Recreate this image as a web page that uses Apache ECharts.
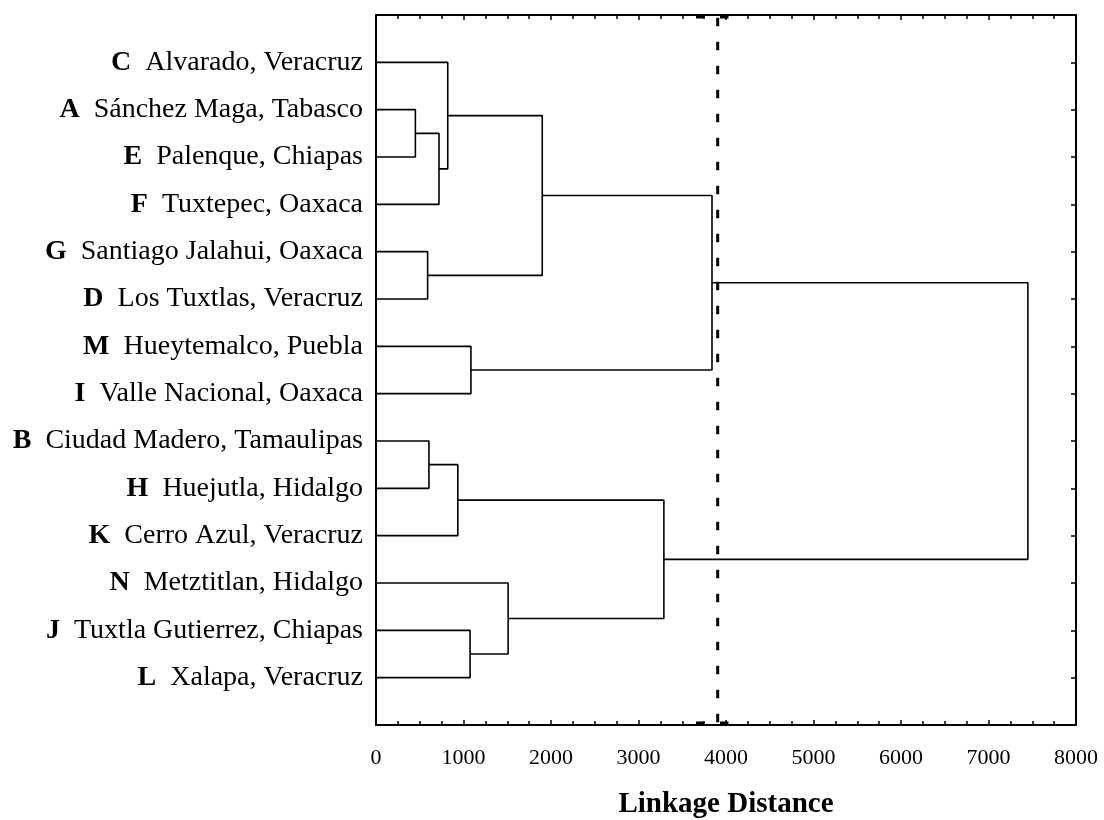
<!DOCTYPE html>
<html>
<head>
<meta charset="utf-8">
<script src="https://cdn.jsdelivr.net/npm/echarts@6/dist/echarts.min.js"></script>
<style>
  html, body { margin: 0; padding: 0; background: #fff; }
  #chart { width: 1104px; height: 820px; }
</style>
</head>
<body>
<div id="chart"></div>
<script>
// Leaves, top to bottom
const letters = ['C', 'A', 'E', 'F', 'G', 'D', 'M', 'I', 'B', 'H', 'K', 'N', 'J', 'L'];
const sites = [
  'Alvarado, Veracruz',
  'Sánchez Maga, Tabasco',
  'Palenque, Chiapas',
  'Tuxtepec, Oaxaca',
  'Santiago Jalahui, Oaxaca',
  'Los Tuxtlas, Veracruz',
  'Hueytemalco, Puebla',
  'Valle Nacional, Oaxaca',
  'Ciudad Madero, Tamaulipas',
  'Huejutla, Hidalgo',
  'Cerro Azul, Veracruz',
  'Metztitlan, Hidalgo',
  'Tuxtla Gutierrez, Chiapas',
  'Xalapa, Veracruz'
];

// Linkage steps: [left node, right node, linkage distance].
// Nodes 0..13 are leaves; step k creates node 14 + k.
const mergeLeft  = [1, 14, 0, 4, 16, 6, 18, 8, 21, 12, 11, 22, 20];
const mergeRight = [2, 3, 15, 5, 17, 7, 19, 9, 10, 13, 23, 24, 25];
const mergeDist  = [450, 720, 820, 590, 1900, 1085, 3840, 605, 935, 1075, 1510, 3290, 7450];

// Cut level marked on the tree
const cutDistance = 3905;
const cutBar = [3657, 4046];

const xTicks = [0, 1000, 2000, 3000, 4000, 5000, 6000, 7000, 8000];

// Node positions: leaves sit at rows 1..n, clusters at the mean row of their two children
const nodeRow = letters.map((_, i) => i + 1);
const nodeDist = letters.map(() => 0);
const linkSeries = [];
mergeDist.forEach((d, k) => {
  const a = mergeLeft[k], b = mergeRight[k];
  linkSeries.push({
    type: 'line',
    silent: true,
    symbol: 'none',
    animation: false,
    lineStyle: { color: '#000', width: 1.6 },
    data: [
      [nodeDist[a], nodeRow[a]],
      [d, nodeRow[a]],
      [d, nodeRow[b]],
      [nodeDist[b], nodeRow[b]]
    ]
  });
  nodeRow.push((nodeRow[a] + nodeRow[b]) / 2);
  nodeDist.push(d);
});

const n = letters.length;
const dashed = (data, offset) => ({
  type: 'line',
  silent: true,
  symbol: 'none',
  animation: false,
  z: 5,
  lineStyle: { color: '#000', width: 3, type: [8.5, 15.5], dashOffset: offset },
  data: data
});

const serif = '"Liberation Serif", "DejaVu Serif", serif';
const frameLine = { show: true, onZero: false, lineStyle: { color: '#000', width: 2 } };
const tickStyle = { show: true, inside: true, length: 5, lineStyle: { color: '#000', width: 1.5 } };
const minorStyle = { show: true, splitNumber: 4, length: 4, lineStyle: { color: '#000', width: 1.5 } };

const chart = echarts.init(document.getElementById('chart'), null, { renderer: 'canvas' });
chart.setOption({
  backgroundColor: '#fff',
  animation: false,
  grid: { left: 376, right: 28, top: 15, bottom: 95, containLabel: false, outerBoundsMode: 'none' },
  xAxis: [
    {
      type: 'value',
      position: 'bottom',
      min: 0, max: 8000, interval: 1000,
      name: 'Linkage Distance',
      nameLocation: 'middle',
      nameGap: 65,
      nameTextStyle: { fontFamily: serif, fontSize: 29, fontWeight: 'bold', color: '#000' },
      axisLine: frameLine,
      axisTick: tickStyle,
      minorTick: minorStyle,
      axisLabel: {
        margin: 22, fontFamily: serif, fontSize: 22, color: '#000',
        formatter: v => xTicks.includes(v) ? String(v) : ''
      },
      splitLine: { show: false }
    },
    {
      type: 'value',
      position: 'top',
      min: 0, max: 8000, interval: 1000,
      axisLine: frameLine,
      axisTick: tickStyle,
      minorTick: minorStyle,
      axisLabel: { show: false },
      splitLine: { show: false }
    }
  ],
  yAxis: [
    {
      type: 'value',
      position: 'left',
      inverse: true,
      min: 0, max: n + 1, interval: 1,
      axisLine: frameLine,
      axisTick: { show: false },
      axisLabel: {
        margin: 13,
        fontFamily: serif,
        fontSize: 28,
        color: '#000',
        formatter: v => (v >= 1 && v <= n) ? '{b|' + letters[v - 1] + '}  ' + sites[v - 1] : '',
        rich: {
          b: { fontFamily: serif, fontSize: 28, fontWeight: 'bold', color: '#000' }
        }
      },
      splitLine: { show: false }
    },
    {
      type: 'value',
      position: 'right',
      inverse: true,
      min: 0, max: n + 1, interval: 1,
      axisLine: frameLine,
      axisTick: tickStyle,
      axisLabel: { show: false },
      splitLine: { show: false }
    }
  ],
  series: linkSeries.concat([
    dashed([[cutDistance, 0], [cutDistance, n + 1]], 21.3),
    dashed([[cutBar[0], 0.04], [cutBar[1], 0.04]], 0),
    dashed([[cutBar[0], n + 0.96], [cutBar[1], n + 0.96]], 0)
  ])
});
</script>
</body>
</html>
